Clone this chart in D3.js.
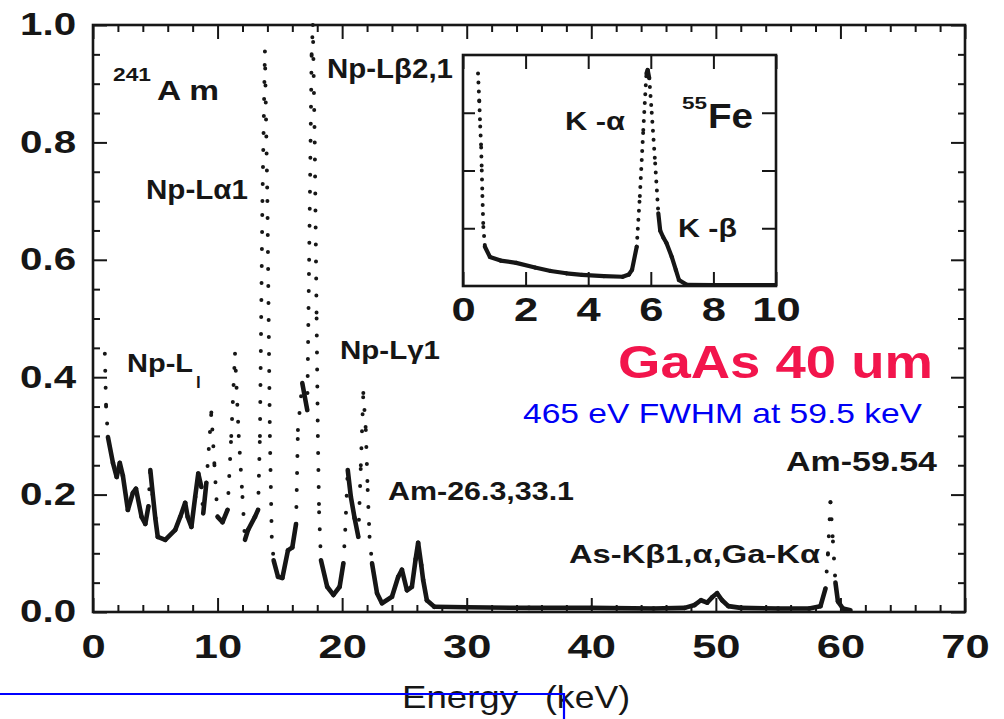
<!DOCTYPE html>
<html><head><meta charset="utf-8">
<script src="https://cdn.jsdelivr.net/npm/d3@7"></script>
<style>body{margin:0;background:#fff}svg{display:block}</style>
</head><body><svg id="c" width="1004" height="719"></svg>
<script>
// ---- data ----
const mainEnergy = [0.95,1.05,1.2,1.6,1.9,2.15,2.4,2.8,3.2,3.45,3.9,4.2,4.45,4.6,4.8,5.0,5.2,5.8,6.6,7.0,7.4,7.6,7.9,8.2,8.45,8.7,8.85,9.1,9.5,9.75,10.0,10.4,10.8,11.1,11.4,11.7,12.0,12.2,12.45,13.0,13.25,13.4,13.6,13.8,14.0,14.2,14.35,14.5,14.85,15.2,15.65,16.0,16.3,16.45,16.8,17.2,17.35,17.55,17.65,17.8,17.95,18.05,18.15,18.3,18.8,19.3,19.8,20.1,20.25,20.45,20.7,21.0,21.3,21.5,21.7,21.9,22.05,22.2,22.4,22.8,23.2,24.0,24.5,24.8,25.2,25.6,25.9,26.1,26.35,26.5,26.8,27.4,30,35,40,45,47.5,48.3,48.8,49.3,49.7,50.1,50.5,51,52,55,57.5,58.4,58.8,59.0,59.2,59.4,59.6,59.8,60.2,60.8];
const mainCounts = [0.44,0.35,0.298,0.254,0.23,0.254,0.232,0.174,0.203,0.21,0.162,0.15,0.18,0.242,0.2,0.16,0.128,0.123,0.14,0.162,0.186,0.162,0.145,0.196,0.236,0.213,0.168,0.22,0.34,0.25,0.162,0.153,0.174,0.30,0.44,0.30,0.196,0.123,0.14,0.162,0.174,0.3,0.7,0.955,0.7,0.3,0.128,0.088,0.06,0.058,0.105,0.11,0.15,0.31,0.39,0.344,0.6,0.95,1.0,0.8,0.5,0.3,0.17,0.088,0.043,0.029,0.043,0.083,0.14,0.242,0.196,0.16,0.128,0.25,0.373,0.31,0.208,0.128,0.083,0.032,0.015,0.026,0.06,0.072,0.037,0.043,0.09,0.118,0.08,0.055,0.02,0.009,0.008,0.007,0.007,0.006,0.007,0.012,0.02,0.016,0.025,0.032,0.02,0.01,0.007,0.006,0.006,0.01,0.04,0.1,0.187,0.12,0.05,0.018,0.006,0.003];

const insetEnergy = [0.48,0.52,0.55,0.58,0.6,0.62,0.65,0.7,0.86,1.2,1.7,2.3,2.8,3.3,3.8,4.5,5.1,5.3,5.4,5.55,5.65,5.76,5.86,5.9,5.95,6.03,6.14,6.24,6.3,6.4,6.5,6.67,6.8,6.9,7.15,8,9,10];
const insetCounts = [0.92,0.80,0.69,0.60,0.50,0.39,0.255,0.17,0.126,0.11,0.10,0.08,0.065,0.055,0.048,0.043,0.04,0.05,0.07,0.17,0.39,0.675,0.92,0.935,0.90,0.75,0.53,0.315,0.24,0.21,0.186,0.126,0.07,0.026,0.005,0.004,0.004,0.004];

const xTickValues = [0,10,20,30,40,50,60,70];
const yTickValues = [0,0.2,0.4,0.6,0.8,1.0];
const insetTickValues = [0,2,4,6,8,10];
const insetYTicks = [0.25,0.5,0.75];

// ---- drawing ----
const svg = d3.select("#c");
const FONT = "'Liberation Sans', Arial, Helvetica, sans-serif";
const INK = "#161616";

const x = d3.scaleLinear().domain([0,70]).range([93,965]);
const y = d3.scaleLinear().domain([0,1]).range([612,25]);
const xi = d3.scaleLinear().domain([0,10]).range([463,776]);
const yi = d3.scaleLinear().domain([0,1]).range([286,55]);

svg.append("rect").attr("width",1004).attr("height",719).attr("fill","#fff");

const defs = svg.append("defs");
defs.append("clipPath").attr("id","clipMain").append("rect")
  .attr("x",x(0)).attr("y",y(1)-2).attr("width",x(70)-x(0)).attr("height",y(0)-y(1)+2);
defs.append("clipPath").attr("id","clipInset").append("rect")
  .attr("x",xi(0)).attr("y",yi(1)).attr("width",xi(10)-xi(0)).attr("height",yi(0)-yi(1));

function styleAxis(g, size, scaleX){
  g.select(".domain").remove();
  g.selectAll("line").attr("stroke",INK).attr("stroke-width",2);
  g.attr("font-family",FONT).attr("font-size",size).attr("font-weight","bold");
  g.selectAll("text").attr("fill",INK).attr("transform",`scale(${scaleX},1)`);
}

function drawSpectrum(g, ex, cy, sx, sy, lw, minDy, gap){
  const pts = ex.map((e,i)=>[e,cy[i]]);
  const line = d3.line().x(d=>sx(d[0])).y(d=>sy(d[1]));
  for(let i=0;i<pts.length-1;i++){
    const a=pts[i], b=pts[i+1];
    const dx=Math.abs(sx(b[0])-sx(a[0])), dy=Math.abs(sy(b[1])-sy(a[1]));
    const steep = dy>10*dx && dy>minDy;
    const p = g.append("path").attr("d",line([a,b])).attr("fill","none")
      .attr("stroke",INK).attr("stroke-linecap","round").attr("stroke-linejoin","round");
    if(steep){ p.attr("stroke-width",4).attr("stroke-dasharray",`0,${gap}`); }
    else { p.attr("stroke-width",lw); }
  }
}

// main axes
const minorX = d3.range(0,71,2).filter(v=>v%10!==0);
const minorY = d3.range(0,1.001,0.05).filter(v=>Math.abs(v*5-Math.round(v*5))>1e-6);

svg.append("g").attr("transform",`translate(0,${y(0)})`)
  .call(d3.axisBottom(x).tickValues(minorX).tickSize(-7).tickFormat(""))
  .call(g=>styleAxis(g,34,1.28));
svg.append("g").attr("transform",`translate(0,${y(0)})`)
  .call(d3.axisBottom(x).tickValues(xTickValues).tickSize(-14).tickPadding(22).tickFormat(d3.format("d")))
  .call(g=>styleAxis(g,34,1.28));
svg.append("g").attr("transform",`translate(0,${y(1)})`)
  .call(d3.axisTop(x).tickValues(minorX).tickSize(-7).tickFormat(""))
  .call(g=>styleAxis(g,34,1.28));
svg.append("g").attr("transform",`translate(0,${y(1)})`)
  .call(d3.axisTop(x).tickValues(xTickValues).tickSize(-14).tickFormat(""))
  .call(g=>styleAxis(g,34,1.28));
svg.append("g").attr("transform",`translate(${x(0)},0)`)
  .call(d3.axisLeft(y).tickValues(minorY).tickSize(-7).tickFormat(""))
  .call(g=>styleAxis(g,31,1.28));
svg.append("g").attr("transform",`translate(${x(0)},0)`)
  .call(d3.axisLeft(y).tickValues(yTickValues).tickSize(-14).tickPadding(13).tickFormat(d3.format(".1f")))
  .call(g=>styleAxis(g,31,1.3));
svg.append("g").attr("transform",`translate(${x(70)},0)`)
  .call(d3.axisRight(y).tickValues(minorY).tickSize(-7).tickFormat(""))
  .call(g=>styleAxis(g,31,1.28));
svg.append("g").attr("transform",`translate(${x(70)},0)`)
  .call(d3.axisRight(y).tickValues(yTickValues).tickSize(-14).tickFormat(""))
  .call(g=>styleAxis(g,31,1.28));

// main spectrum
drawSpectrum(svg.append("g").attr("clip-path","url(#clipMain)"), mainEnergy, mainCounts, x, y, 4.6, 20, 17);

svg.append("rect").attr("x",x(0)).attr("y",y(1)).attr("width",x(70)-x(0)).attr("height",y(0)-y(1))
  .attr("fill","none").attr("stroke",INK).attr("stroke-width",2.6);

// inset
svg.append("rect").attr("x",xi(0)).attr("y",yi(1)).attr("width",xi(10)-xi(0)).attr("height",yi(0)-yi(1))
  .attr("fill","#fff");
svg.append("g").attr("transform",`translate(0,${yi(0)})`)
  .call(d3.axisBottom(xi).tickValues(insetTickValues).tickSize(-14).tickPadding(11).tickFormat(d3.format("d")))
  .call(g=>styleAxis(g,34,1.28));
svg.append("g").attr("transform",`translate(0,${yi(1)})`)
  .call(d3.axisTop(xi).tickValues(insetTickValues).tickSize(-14).tickFormat(""))
  .call(g=>styleAxis(g,34,1.28));
svg.append("g").attr("transform",`translate(${xi(0)},0)`)
  .call(d3.axisLeft(yi).tickValues(insetYTicks).tickSize(-12).tickFormat(""))
  .call(g=>styleAxis(g,30,1.28));
svg.append("g").attr("transform",`translate(${xi(10)},0)`)
  .call(d3.axisRight(yi).tickValues(insetYTicks).tickSize(-14).tickFormat(""))
  .call(g=>styleAxis(g,30,1.28));
drawSpectrum(svg.append("g").attr("clip-path","url(#clipInset)"), insetEnergy, insetCounts, xi, yi, 4.2, 12, 9);
svg.append("rect").attr("x",xi(0)).attr("y",yi(1)).attr("width",xi(10)-xi(0)).attr("height",yi(0)-yi(1))
  .attr("fill","none").attr("stroke",INK).attr("stroke-width",2.6);

// text labels
function label(t, px, py, size, width, opt={}){
  const el = svg.append("text").attr("x",px).attr("y",py).text(t)
    .attr("font-family",FONT).attr("font-size",size)
    .attr("font-weight",opt.weight||"bold").attr("fill",opt.color||INK);
  if(width){ el.attr("textLength",width).attr("lengthAdjust","spacingAndGlyphs"); }
  return el;
}
label("241",113,81,18,38);
label("A m",157,100,28,62);
label("Np-L\u03b11",146,199,27,102);
label("Np-L\u03b22,1",327,78,27,126);
label("Np-L",127,372,26,66);
label("l",196,388,17,null);
label("Np-L\u03b31",340,359,26,100);
label("Am-26.3,33.1",388,500,26,186);
label("As-K\u03b21,\u03b1,Ga-K\u03b1",569,563,26,251);
label("Am-59.54",786,471,27,151);
label("GaAs 40 um",618,378,46,315,{color:"#f2154c"});
label("465 eV FWHM at 59.5 keV",523,423,28,399,{color:"#0000f5",weight:"normal"});
// inset labels
label("K -\u03b1",565,130,25,60);
label("55",682,109,17,25);
label("Fe",708,128,35,45);
label("K -\u03b2",678,237,25,59);
// axis title
label("Energy",402,708,32,116,{weight:"normal"});
label("(keV)",545,708,32,85,{weight:"normal"});

// blue annotation line
svg.append("path").attr("d",`M0,694H564V719`).attr("fill","none")
  .attr("stroke","#0000ff").attr("stroke-width",2.2);
</script></body></html>
